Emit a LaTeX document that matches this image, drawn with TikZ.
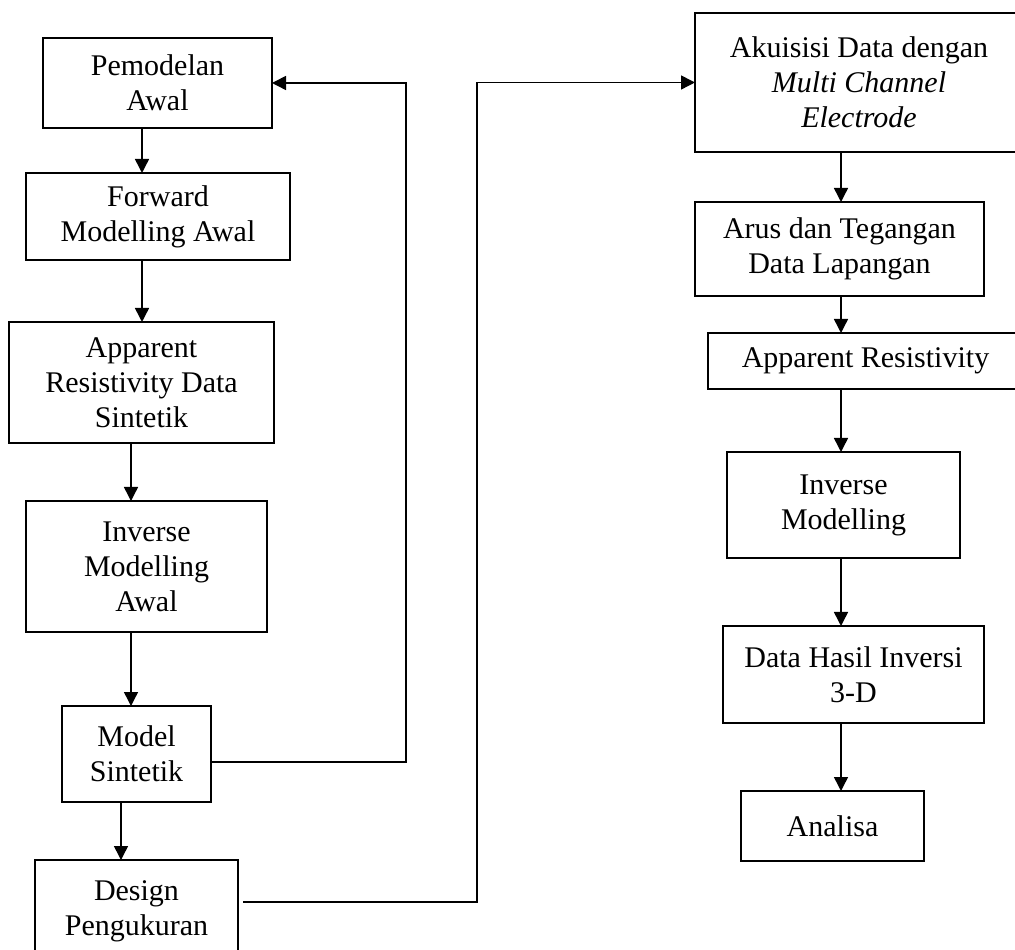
\documentclass[tikz,border=0pt]{standalone}
\usepackage{fontspec}
\setmainfont{Liberation Serif}
\usetikzlibrary{positioning,arrows.meta}
\tikzset{
    procbox/.style={draw, line width=0.6pt, align=center, inner sep=0pt, outer sep=0pt, font=\fontsize{12}{14}\selectfont},
    flowarrow/.style={draw, line width=0.6pt, -{Triangle[length=5.6pt,width=5.6pt]}},
    flowline/.style={draw, line width=0.6pt}
}

\begin{document}
\begin{tikzpicture}[x=0.4pt, y=-0.4pt]
    \useasboundingbox (0,0) rectangle (1015,950);

    % kolom kiri: pemodelan sintetik
    \node[procbox, minimum width=91.6pt, minimum height=36pt] (pemodelan) at (157.5,83) {Pemodelan\\Awal};
    \node[procbox, minimum width=105.6pt, minimum height=34.8pt, below=18pt of pemodelan, xshift=0.2pt] (forward) {Forward\\Modelling Awal};
    \node[procbox, minimum width=106pt, minimum height=48.4pt, below=24.8pt of forward, xshift=-6.6pt] (apparent) {Apparent\\Resistivity Data\\Sintetik};
    \node[procbox, minimum width=96.4pt, minimum height=52.4pt, below=23.2pt of apparent, xshift=2pt] (inverse) {Inverse\\Modelling\\Awal};
    \node[procbox, minimum width=59.6pt, minimum height=38.4pt, below=29.6pt of inverse, xshift=-4pt] (sintetik) {Model\\Sintetik};
    \node[procbox, minimum width=81.2pt, minimum height=40.8pt, below=23.2pt of sintetik] (design) {Design\\Pengukuran};

    % kolom kanan: data lapangan
    \node[procbox, minimum width=131.2pt, minimum height=55.6pt] (akuisisi) at (859,82.5) {Akuisisi Data dengan\\\textit{Multi Channel}\\\textit{Electrode}};
    \node[procbox, minimum width=115.6pt, minimum height=37.6pt, below=20pt of akuisisi, xshift=-7.8pt] (arus) {Arus dan Tegangan\\Data Lapangan};
    \node[procbox, minimum width=126pt, minimum height=22.4pt, below=14.8pt of arus, xshift=10.4pt] (resistivity) {Apparent Resistivity};
    \node[procbox, minimum width=93.2pt, minimum height=42.4pt, below=25.2pt of resistivity, xshift=-8.8pt] (inversi) {Inverse\\Modelling};
    \node[procbox, minimum width=104.4pt, minimum height=38.8pt, below=27.2pt of inversi, xshift=4pt] (hasil) {Data Hasil Inversi\\3-D};
    \node[procbox, minimum width=73.2pt, minimum height=28pt, below=27.2pt of hasil, xshift=-8.4pt] (analisa) {Analisa};

    % sumbu panah dan jalur balik
    \coordinate (axA) at (142,0);
    \coordinate (axB) at (131,0);
    \coordinate (axC) at (121,0);
    \coordinate (axR) at (841,0);
    \coordinate (loopL) at (406,400);
    \coordinate (loopR) at (477,400);

    \draw[flowarrow] (pemodelan.south -| axA) -- (forward.north -| axA);
    \draw[flowarrow] (forward.south -| axA) -- (apparent.north -| axA);
    \draw[flowarrow] (apparent.south -| axB) -- (inverse.north -| axB);
    \draw[flowarrow] (inverse.south -| axB) -- (sintetik.north -| axB);
    \draw[flowarrow] (sintetik.south -| axC) -- (design.north -| axC);
    \draw[flowarrow] ([yshift=-3.2pt]sintetik.east) -| (loopL) |- (pemodelan.east);
    \draw[flowarrow] ([xshift=2pt,yshift=3.6pt]design.east) -| (loopR) |- (akuisisi.west);

    \draw[flowarrow] (akuisisi.south -| axR) -- (arus.north -| axR);
    \draw[flowarrow] (arus.south -| axR) -- (resistivity.north -| axR);
    \draw[flowarrow] (resistivity.south -| axR) -- (inversi.north -| axR);
    \draw[flowarrow] (inversi.south -| axR) -- (hasil.north -| axR);
    \draw[flowarrow] (hasil.south -| axR) -- (analisa.north -| axR);
\end{tikzpicture}
\end{document}
